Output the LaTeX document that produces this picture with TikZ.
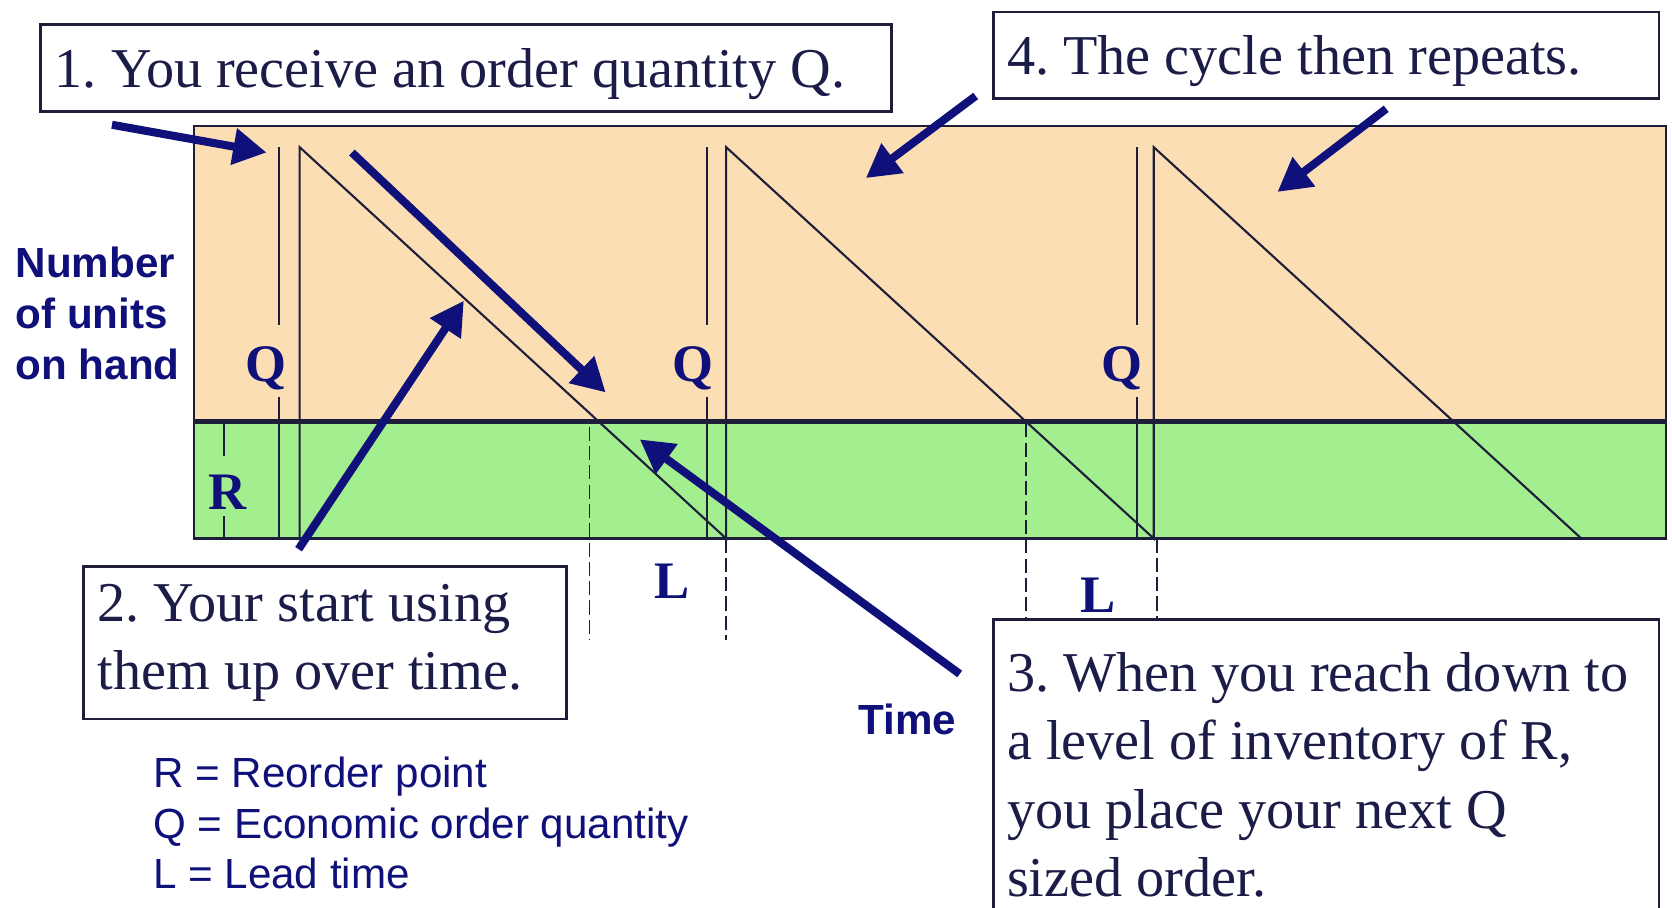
\documentclass[tikz,border=0pt]{standalone}
\usepackage{fontspec}
\setmainfont{Liberation Serif}
\setsansfont{Liberation Sans}
\usetikzlibrary{arrows.meta,positioning,calc}
\definecolor{InvNavy}{HTML}{10107A}
\definecolor{InvInk}{HTML}{1C1C48}
\definecolor{InvEdge}{HTML}{1E1E3A}
\definecolor{InvPeach}{HTML}{FCDEB4}
\definecolor{InvGreen}{HTML}{A3EF90}
\frenchspacing

\tikzset{
  callout/.style={draw=InvEdge,line width=0.8pt,fill=white,text=InvInk,align=flush left,
    font=\fontsize{16}{19.4}\selectfont,inner xsep=0.14cm,inner ysep=0.15cm},
  pointer/.style={InvNavy,line width=2.3pt,-{Triangle[length=9.5pt,width=10pt]}},
  sidelabel/.style={text=InvNavy,inner sep=0pt,align=left,
    font=\sffamily\bfseries\fontsize{12}{14.4}\selectfont},
  marklabel/.style={text=InvNavy,inner sep=1pt,font=\bfseries\fontsize{15}{18}\selectfont},
  saw/.style={draw=InvEdge,line width=0.6pt},
  leadline/.style={draw=InvEdge,line width=0.4pt,dash pattern=on 4pt off 1.5pt},
}

\begin{document}
\begin{tikzpicture}[x=0.010663cm,y=-0.010663cm]
  \useasboundingbox[fill=white] (0,0) rectangle (1568,851);

  % stock chart
  \fill[InvPeach] (182,118) rectangle (1562,395);
  \fill[InvGreen] (182,395) rectangle (1562,505);
  \draw[InvEdge,line width=0.6pt] (182,118) rectangle (1562,505);
  \draw[InvEdge,line width=1.3pt] (182,395) -- (1562,395);

  \draw[saw] (281,505) -- (281,138) -- (681,505) -- (681,138)
    -- (1082,505) -- (1082,138) -- (1483,505);

  % Q, R and L marks
  \node[marklabel] (q1) at (249,345) {Q};
  \node[marklabel] (q2) at (650,345) {Q};
  \node[marklabel] (q3) at (1052,345) {Q};
  \node[marklabel] (rr) at (213,462) {R};
  \node[marklabel] (l1) at (630,545) {L};
  \node[marklabel] (l2) at (1030,558) {L};

  \draw[saw] (262,138) -- (262,305) (262,372) -- (262,505);
  \draw[saw] (663,138) -- (663,305) (663,372) -- (663,505);
  \draw[saw] (1066,138) -- (1066,305) (1066,372) -- (1066,505);
  \draw[saw] (210,396) -- (210,428) (210,484) -- (210,505);

  \draw[leadline] (553,400) -- (553,600);
  \draw[leadline] (681,505) -- (681,600);
  \draw[leadline] (962,397) -- (962,580);
  \draw[leadline] (1085,505) -- (1085,580);

  % axis texts and legend
  \node[sidelabel,anchor=west] (units) at (14,294) {Number\\of units\\on hand};
  \node[sidelabel] (time) at (851,675) {Time};
  \node[sidelabel,anchor=west,font=\sffamily\fontsize{12}{14.4}\selectfont] (legend) at (143,772)
    {R = Reorder point\\Q = Economic order quantity\\L = Lead time};

  % callouts
  \node[callout,anchor=north west,text width=8.23cm,minimum height=0.864cm,text depth=0pt] (recv) at (37,22)
    {1. You receive an order quantity Q.};
  \node[callout,anchor=north west,text width=4.55cm,minimum height=1.525cm] (useup) at (77,530)
    {2. Your start using\\them up over time.};
  \node[callout,anchor=north west,text width=6.38cm,minimum height=3.1cm,inner ysep=0.18cm] (reorder) at (930,580)
    {3. When you reach down to\\a level of inventory of R,\\you place your next Q\\sized order.};
  \node[callout,anchor=north west,text width=6.38cm,minimum height=0.864cm,text depth=0pt] (repeat) at (930,10)
    {4. The cycle then repeats.};

  % pointers
  \coordinate (recvtail) at (105,117);
  \coordinate (recvtip) at (250,143);
  \coordinate (downtail) at (330,143);
  \coordinate (downtip) at (568,368);
  \coordinate (usetail) at (280,515);
  \coordinate (usetip) at (435,282);
  \coordinate (rptail) at (900,632);
  \coordinate (rptip) at (600,412);
  \coordinate (againtail) at (915,90);
  \coordinate (againtip) at (812,167);
  \coordinate (thirdtail) at (1300,102);
  \coordinate (thirdtip) at (1198,180);

  \draw[pointer] (recvtail) -- (recvtip);
  \draw[pointer] (downtail) -- (downtip);
  \draw[pointer] (usetail) -- (usetip);
  \draw[pointer] (rptail) -- (rptip);
  \draw[pointer] (againtail) -- (againtip);
  \draw[pointer] (thirdtail) -- (thirdtip);
\end{tikzpicture}
\end{document}
